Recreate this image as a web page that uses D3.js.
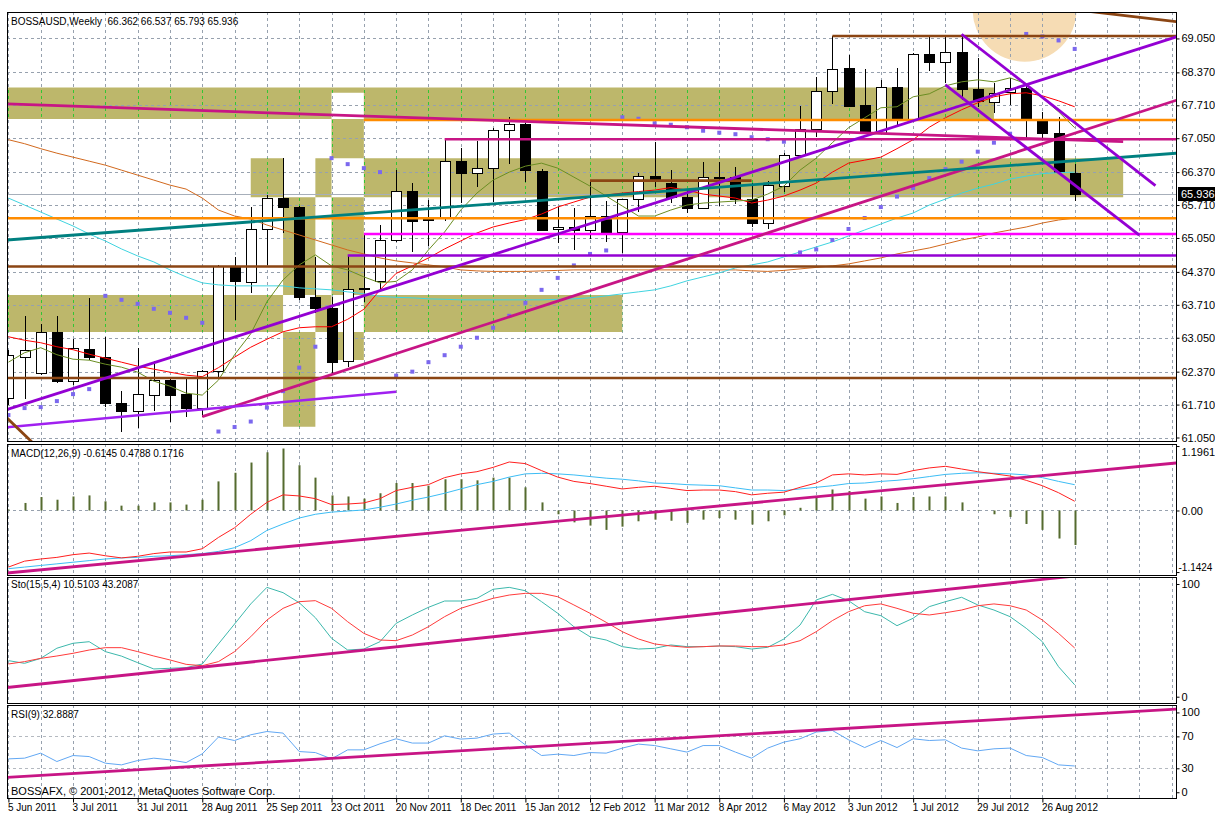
<!DOCTYPE html>
<html><head><meta charset="utf-8">
<script src="https://cdn.jsdelivr.net/npm/d3@7"></script>
<style>
body{margin:0;background:#fff;}
svg{display:block;font-family:"Liberation Sans",Arial,sans-serif;}
text{white-space:pre;}
</style></head><body>
<svg id="c" width="1215" height="815"></svg>
<script>
// ---------------- DATA ----------------
const dateLabels=["5 Jun 2011","3 Jul 2011","31 Jul 2011","28 Aug 2011","25 Sep 2011","23 Oct 2011","20 Nov 2011","18 Dec 2011","15 Jan 2012","12 Feb 2012","11 Mar 2012","8 Apr 2012","6 May 2012","3 Jun 2012","1 Jul 2012","29 Jul 2012","26 Aug 2012"];
const labelBars=[0,4,8,12,16,20,24,28,32,36,40,44,48,52,56,60,64];
const priceTicks=[69.05,68.37,67.71,67.05,66.37,65.71,65.05,64.37,63.71,63.05,62.37,61.71,61.05];
const macdTicks=[1.1961,0,-1.1424];
const macdTickLabels=["1.1961","0.00","-1.1424"];
const stoTicks=[100,0];
const rsiTicks=[100,70,30,0];

const open=[61.84,62.66,62.34,63.17,62.18,62.82,62.66,61.74,61.58,61.90,62.20,61.92,61.64,62.37,64.48,64.17,65.23,65.86,65.68,63.87,63.65,62.57,64.02,64.19,65.01,66.00,65.40,65.44,66.59,66.35,66.46,67.20,67.33,66.40,65.22,65.26,65.20,65.49,65.16,65.83,66.30,66.16,65.88,65.65,66.27,66.27,65.83,65.35,66.08,66.71,67.23,68.00,68.46,67.72,67.16,68.08,67.40,68.73,68.56,68.77,68.03,67.78,67.96,68.05,67.40,67.15,66.362];
const high=[62.80,63.49,63.33,63.49,63.03,63.85,63.07,61.98,62.84,62.58,62.24,62.24,62.40,64.50,64.67,65.67,65.91,66.65,65.70,64.67,63.87,64.69,65.15,65.31,66.41,66.15,65.81,67.01,66.85,67.00,67.25,67.48,67.35,66.43,65.68,65.65,66.18,65.80,65.83,66.35,66.98,66.41,66.02,66.58,66.58,66.48,66.15,66.20,66.75,67.70,68.28,69.10,68.72,68.43,68.22,68.46,68.75,69.10,69.10,69.13,68.65,68.16,68.25,68.10,67.58,67.48,66.537];
const low=[61.70,61.82,62.30,62.14,62.10,62.60,61.66,61.16,61.24,61.58,61.36,61.46,61.46,62.24,63.41,63.95,64.51,65.14,63.81,63.55,62.34,62.47,63.77,64.01,64.97,64.77,64.88,65.40,65.75,66.07,65.78,66.53,66.18,65.18,64.94,64.81,65.02,64.96,64.74,65.58,66.07,65.75,65.55,65.64,65.69,65.73,65.26,65.23,65.98,66.68,67.08,67.74,67.68,67.15,67.14,67.32,67.38,68.40,68.15,67.82,67.67,67.55,67.72,67.05,67.05,66.34,65.793];
const close=[62.70,62.80,63.17,62.18,62.84,62.66,61.74,61.58,61.92,62.20,61.90,61.64,62.38,64.48,64.17,65.23,65.86,65.67,63.87,63.64,62.57,64.02,64.05,65.01,66.00,65.40,65.43,66.59,66.35,66.46,67.22,67.33,66.40,65.22,65.26,65.20,65.49,65.16,65.83,66.30,66.20,65.88,65.65,66.27,66.28,65.83,65.35,66.11,66.71,67.23,68.00,68.44,67.70,67.16,68.08,67.42,68.73,68.56,68.77,68.03,67.78,67.96,68.05,67.40,67.15,66.36,65.936];

const maFast=[62.56,62.75,62.85,62.71,62.62,62.60,62.52,62.46,62.36,62.18,62.08,61.94,61.90,62.20,62.71,63.13,63.77,64.21,64.51,64.71,64.49,64.41,64.27,64.15,64.18,64.41,64.81,65.17,65.61,65.95,66.21,66.37,66.49,66.55,66.45,66.27,66.09,65.89,65.69,65.49,65.49,65.61,65.71,65.75,65.77,65.79,65.81,65.93,66.09,66.41,66.65,66.96,67.26,67.46,67.66,67.68,67.88,67.94,68.10,68.18,68.22,68.18,68.26,68.14,67.86,67.58,67.26];
const maMid=[63.07,63.00,62.95,62.87,62.81,62.72,62.64,62.56,62.48,62.42,62.36,62.30,62.27,62.45,62.66,62.86,63.02,63.17,63.25,63.27,63.27,63.42,63.62,64.01,64.34,64.49,64.65,64.83,64.99,65.15,65.27,65.35,65.42,65.53,65.67,65.77,65.87,65.91,65.95,65.98,66.01,66.06,66.01,65.93,65.89,65.85,65.75,65.81,65.89,66.01,66.15,66.37,66.55,66.61,66.67,66.84,67.02,67.27,67.46,67.62,67.76,67.88,67.94,67.96,67.90,67.80,67.68];
const maSlow=[65.85,65.71,65.57,65.43,65.29,65.13,64.99,64.83,64.69,64.57,64.41,64.27,64.15,64.11,64.09,64.09,64.09,64.09,64.05,64.03,64.01,63.97,63.93,63.88,63.86,63.85,63.83,63.82,63.81,63.81,63.81,63.81,63.81,63.81,63.82,63.83,63.85,63.89,63.93,63.97,64.01,64.09,64.19,64.27,64.35,64.45,64.51,64.57,64.67,64.77,64.87,64.97,65.09,65.21,65.33,65.45,65.55,65.71,65.83,65.95,66.05,66.13,66.23,66.29,66.34,66.36,66.37];
const maLong=[67.02,66.94,66.84,66.75,66.67,66.59,66.51,66.41,66.31,66.21,66.11,66.03,65.85,65.61,65.49,65.43,65.31,65.21,65.11,65.01,64.91,64.81,64.73,64.65,64.59,64.55,64.51,64.47,64.41,64.39,64.38,64.38,64.38,64.39,64.40,64.41,64.41,64.41,64.41,64.41,64.41,64.41,64.41,64.41,64.41,64.41,64.39,64.38,64.40,64.43,64.46,64.49,64.53,64.59,64.65,64.73,64.79,64.85,64.93,65.01,65.07,65.15,65.21,65.27,65.35,65.41,65.45];
const sar=[61.50,61.64,61.66,61.78,61.92,62.02,63.89,63.81,63.73,63.63,63.55,63.45,63.35,61.17,61.26,61.37,61.65,61.98,62.45,62.87,66.65,66.53,66.45,66.37,62.29,62.37,62.56,62.70,62.87,63.05,63.25,63.49,63.75,64.01,64.25,64.50,64.73,64.80,67.47,67.44,67.35,67.32,67.27,67.20,67.16,67.13,67.07,67.03,66.98,64.76,64.82,65.01,65.23,65.45,65.67,65.88,66.05,66.25,66.43,66.58,66.78,66.96,67.14,69.14,69.09,69.01,68.84];

const macdHist=[0.02,0.14,0.25,0.20,0.26,0.28,0.17,0.09,0.09,0.15,0.15,0.11,0.20,0.54,0.70,0.89,1.08,1.15,0.84,0.61,0.28,0.26,0.22,0.32,0.51,0.51,0.46,0.58,0.58,0.56,0.61,0.61,0.43,0.15,-0.07,-0.22,-0.28,-0.36,-0.30,-0.20,-0.17,-0.19,-0.23,-0.17,-0.14,-0.17,-0.26,-0.20,-0.09,0.05,0.25,0.39,0.36,0.22,0.26,0.14,0.25,0.26,0.26,0.15,0.01,-0.07,-0.12,-0.25,-0.36,-0.52,-0.64];
const macdMain=[-1.05,-0.94,-0.90,-0.87,-0.82,-0.79,-0.84,-0.88,-0.85,-0.80,-0.77,-0.77,-0.71,-0.50,-0.32,-0.07,0.15,0.29,0.27,0.22,0.11,0.12,0.14,0.22,0.37,0.43,0.48,0.61,0.68,0.72,0.80,0.90,0.87,0.74,0.62,0.54,0.50,0.45,0.40,0.43,0.45,0.41,0.37,0.38,0.38,0.35,0.29,0.32,0.34,0.43,0.51,0.66,0.68,0.66,0.68,0.67,0.74,0.79,0.82,0.77,0.72,0.68,0.64,0.56,0.46,0.33,0.1716];
const macdSignal=[-1.08,-1.05,-1.02,-0.99,-0.96,-0.93,-0.90,-0.88,-0.87,-0.85,-0.84,-0.82,-0.80,-0.76,-0.69,-0.56,-0.37,-0.25,-0.14,-0.07,-0.03,-0.01,0.01,0.06,0.12,0.19,0.25,0.32,0.40,0.48,0.54,0.62,0.68,0.69,0.68,0.66,0.63,0.60,0.58,0.55,0.51,0.50,0.48,0.47,0.46,0.42,0.38,0.38,0.37,0.40,0.43,0.46,0.50,0.51,0.54,0.56,0.59,0.63,0.67,0.69,0.70,0.69,0.68,0.66,0.61,0.54,0.4788];
const stoMain=[32,29.6,34,43,47.4,48.8,40,36,30.2,24.6,25.2,25.8,29,46.8,64.5,82.3,97,92.3,83.4,70.1,51.8,41.4,42.3,48.8,65.1,72.5,79.3,84.9,84.9,87.3,95.3,97,94,84.3,74,62.1,53.2,50.3,44.4,42.3,42.9,45.9,44.4,44.4,45,44.4,42.3,43.8,51.2,63.6,85.8,90.8,85.2,75.4,71.9,63,69.6,79.9,84.3,88.2,81.4,76.9,71,60.7,48.8,26.6,10.51];
const stoSignal=[29,31.1,34,36.1,38.5,41.4,43.5,43.5,40,36.1,32.6,28.7,27.5,31.1,40,53.2,68,78.4,84.3,85.2,78.4,66.5,56.2,50.3,49.7,54.7,62.1,71,78.4,82.9,87.3,90.2,91.7,91.7,88.7,81.4,74,66,57.7,51.2,46.8,45,43.8,44.4,45,45,44.4,44.4,45.9,49.7,57.7,67.5,75.4,80.7,82.3,78.4,74,72.5,74.5,76.9,80.7,82.3,80.7,76.9,68,56.2,43.21];
const rsi=[41.8,42.7,49,38.5,46,44.7,36.4,34.3,39.7,42.7,40.6,37.2,48.1,69.1,64.8,72,76.1,74.1,51,49.7,41.8,53.1,53.1,60.7,67,61.6,61.6,70.7,66.6,67.8,72.9,74.1,59.4,46,47.7,46,49.7,49,55.3,60.3,58.5,54.4,50.3,58.5,58.5,50.3,42.7,55.3,62.8,67,75.4,77.4,65.7,56,64.8,56,67,64.8,65.7,55.3,51.9,54.4,55.3,46,43.5,34.3,32.89];

// drawn objects (bar index / price)
const zoneT0=[-3,15,-3,20,17], zoneT1=[61,69,38,22,19];
const zoneTop=[68.064,66.648,63.907,67.963,66.648], zoneBot=[67.436,65.866,63.165,62.604,61.267];
const hLevels=[67.416,65.445,65.13,64.70,64.478,62.243,69.10,66.20,67.03];
const hFrom=[22,-3,22,21,-3,-3,51,36,27];
const hTo=[80,80,80,80,80,80,80,46,80];
const trendT0=[0,12,0,0,0,59,58,68,0];
const trendV0=[61.62,61.47,65.012,67.736,61.257,69.134,68.118,69.55,61.413];
const trendT1=[72,72,72,69,24,71,70,72,1];
const trendV1=[69.05,67.78,66.742,66.981,61.968,66.10,65.105,69.397,61.102];
const trendFrom=[-3,12,-3,-3,-3,59,58,60,-3];
const trendTo=[80,80,80,69,24,71,70,80,5];
const ellipseT=[62.9], ellipseP=[69.627], ellipseRT=[3.22], ellipseRP=[1.043];
const bidPrice=65.936;
const macdTrend=[[0,-1.158],[72,0.874]];
const stoTrend=[[0,8.3],[72,116.0]];
const rsiTrend=[[0,18.8],[72,103.9]];

// ---------------- LAYOUT ----------------
const L=7,R=1176;
const P={main:[12,441],macd:[444,575],sto:[577,703],rsi:[705,798]};
const svg=d3.select("#c");
const x=d3.scaleLinear().domain([-0.087,72.27]).range([L,R]);
const yP=d3.scaleLinear().domain([60.98,69.58]).range([441,12]);
const yM=d3.scaleLinear().domain([-1.197,1.234]).range([575,444]);
const yS=d3.scaleLinear().domain([-5.6,106.2]).range([703,577]);
const yR=d3.scaleLinear().domain([-7.2,109.3]).range([798,705]);
const bars=d3.range(open.length);
const defs=svg.append("defs");
Object.entries(P).forEach(([k,[t,b]])=>{
  defs.append("clipPath").attr("id","clip-"+k).append("rect").attr("x",L).attr("y",t).attr("width",R-L).attr("height",b-t);
});
const C={grid:"#97a1ae",olive:"#BDB76B",mag:"#C71585",fuch:"#FF00FF",purp:"#9400D3",teal:"#008080",orange:"#FF8C00",brown:"#8B4513"};

function gridV(g,t,b){
  g.selectAll(null).data(d3.range(0,74,2)).join("line")
   .attr("x1",d=>Math.round(x(d))+0.5).attr("x2",d=>Math.round(x(d))+0.5)
   .attr("y1",t).attr("y2",b).attr("stroke",C.grid).attr("stroke-dasharray","3,3");
}
function gridH(g,ys,color){
  g.selectAll(null).data(ys).join("line").attr("x1",L).attr("x2",R)
   .attr("y1",d=>Math.round(d)+0.5).attr("y2",d=>Math.round(d)+0.5)
   .attr("stroke",color||C.grid).attr("stroke-dasharray","3,3");
}

// ---------------- MAIN PANEL ----------------
const gm=svg.append("g").attr("clip-path","url(#clip-main)");
const zonePath=zoneT0.map((t,k)=>{
  const x0=x(t),x1=x(zoneT1[k]),y0=yP(zoneTop[k]),y1=yP(zoneBot[k]);
  return `M${x0},${y0}H${x1}V${y1}H${x0}Z`;}).join("");
gm.append("path").attr("d",zonePath).attr("fill",C.olive).attr("fill-rule","evenodd");
defs.append("clipPath").attr("id","clip-zone").append("path").attr("d",zonePath).attr("clip-rule","evenodd");
gm.append("ellipse").attr("cx",x(ellipseT[0])).attr("cy",yP(ellipseP[0]))
  .attr("rx",x(ellipseT[0]+ellipseRT[0])-x(ellipseT[0])).attr("ry",yP(ellipseP[0]-ellipseRP[0])-yP(ellipseP[0]))
  .attr("fill","#F6DCB4");
gridV(gm,12,441);
gridH(gm,priceTicks.map(yP));
const gz=gm.append("g").attr("clip-path","url(#clip-zone)");
gz.selectAll(null).data(d3.range(0,74,2)).join("line")
  .attr("x1",d=>Math.round(x(d))+0.5).attr("x2",d=>Math.round(x(d))+0.5)
  .attr("y1",12).attr("y2",441).attr("stroke","#33c633").attr("stroke-dasharray","3,3");
gm.append("line").attr("x1",L).attr("x2",R).attr("y1",Math.round(yP(bidPrice))+0.5).attr("y2",Math.round(yP(bidPrice))+0.5).attr("stroke","#a7afba");
const gc=gm.append("g").attr("shape-rendering","crispEdges");
gc.selectAll(null).data(bars).join("line")
  .attr("x1",i=>Math.round(x(i))+0.5).attr("x2",i=>Math.round(x(i))+0.5)
  .attr("y1",i=>yP(high[i])).attr("y2",i=>yP(low[i])).attr("stroke","#000");
gc.selectAll(null).data(bars).join("rect")
  .attr("x",i=>Math.round(x(i))-4.5).attr("width",10)
  .attr("y",i=>Math.round(yP(Math.max(open[i],close[i])))+0.5)
  .attr("height",i=>Math.max(1,Math.round(Math.abs(yP(open[i])-yP(close[i])))))
  .attr("fill",i=>close[i]>=open[i]?"#fff":"#000").attr("stroke","#000");
[[maLong,"#D2691E"],[maSlow,"#40D4E0"],[maMid,"#FF0000"],[maFast,"#6B8E23"]].forEach(([v,c])=>{
  gm.append("path").attr("d",d3.line().x((d,i)=>x(i)).y(d=>yP(d))(v)).attr("fill","none").attr("stroke",c).attr("stroke-width",1);
});
gm.selectAll(null).data(bars).join("rect").attr("x",i=>x(i)-2).attr("y",i=>yP(sar[i])-2).attr("width",4).attr("height",4).attr("fill","#7B68EE");
const hColors=[C.orange,C.orange,C.fuch,C.purp,C.brown,C.brown,C.brown,C.brown,C.mag];
hLevels.forEach((p,k)=>{
  gm.append("line").attr("x1",x(hFrom[k])).attr("x2",x(hTo[k])).attr("y1",yP(p)).attr("y2",yP(p))
    .attr("stroke",hColors[k]).attr("stroke-width",2.6);
});
const tColors=[C.purp,C.mag,C.teal,C.mag,"#A020F0",C.purp,C.purp,C.brown,C.brown];
trendT0.forEach((t0,k)=>{
  const s=(trendV1[k]-trendV0[k])/(trendT1[k]-t0);
  const a=trendFrom[k], b=trendTo[k];
  gm.append("line").attr("x1",x(a)).attr("x2",x(b))
    .attr("y1",yP(trendV0[k]+s*(a-t0))).attr("y2",yP(trendV0[k]+s*(b-t0)))
    .attr("stroke",tColors[k]).attr("stroke-width",k===4?2.4:2.8);
});

// ---------------- MACD ----------------
const gM=svg.append("g").attr("clip-path","url(#clip-macd)");
gridV(gM,444,575);
gridH(gM,[yM(0)]);
gM.selectAll(null).data(bars).join("rect").attr("x",i=>Math.round(x(i))-0.5).attr("width",2)
  .attr("y",i=>Math.min(yM(0),yM(macdHist[i]))).attr("height",i=>Math.abs(yM(macdHist[i])-yM(0)))
  .attr("fill","#556B2F");
gM.append("path").attr("d",d3.line().x((d,i)=>x(i)).y(d=>yM(d))(macdSignal)).attr("fill","none").attr("stroke","#3CBDF5");
gM.append("path").attr("d",d3.line().x((d,i)=>x(i)).y(d=>yM(d))(macdMain)).attr("fill","none").attr("stroke","#FF2020");
function trendLine(g,ys,tr){
  const s=(tr[1][1]-tr[0][1])/(tr[1][0]-tr[0][0]);
  g.append("line").attr("x1",x(-3)).attr("x2",x(80))
   .attr("y1",ys(tr[0][1]+s*(-3-tr[0][0]))).attr("y2",ys(tr[0][1]+s*(80-tr[0][0])))
   .attr("stroke",C.mag).attr("stroke-width",2.8);
}
trendLine(gM,yM,macdTrend);

// ---------------- STOCH ----------------
const gS=svg.append("g").attr("clip-path","url(#clip-sto)");
gridV(gS,577,703);
gS.append("path").attr("d",d3.line().x((d,i)=>x(i)).y(d=>yS(d))(stoMain)).attr("fill","none").attr("stroke","#3CB8AC");
gS.append("path").attr("d",d3.line().x((d,i)=>x(i)).y(d=>yS(d))(stoSignal)).attr("fill","none").attr("stroke","#FF3B3B");
trendLine(gS,yS,stoTrend);

// ---------------- RSI ----------------
const gR=svg.append("g").attr("clip-path","url(#clip-rsi)");
gridV(gR,705,798);
gridH(gR,[yR(70),yR(30)],"#b4b9c0");
gR.append("path").attr("d",d3.line().x((d,i)=>x(i)).y(d=>yR(d))(rsi)).attr("fill","none").attr("stroke","#62A8F4");
trendLine(gR,yR,rsiTrend);

// ---------------- FRAMES & AXES ----------------
Object.values(P).forEach(([t,b])=>{
  svg.append("rect").attr("x",L+0.5).attr("y",t+0.5).attr("width",R-L).attr("height",b-t).attr("fill","none").attr("stroke","#000");
});
function styleAxis(g,fs){
  g.select(".domain").remove();
  g.selectAll("text").attr("font-size",fs||11).attr("fill","#000").attr("font-family","Liberation Sans, Arial, sans-serif");
  g.selectAll("line").attr("stroke","#000");
}
svg.append("g").attr("transform",`translate(${R+0.5},0)`)
  .call(d3.axisRight(yP).tickValues(priceTicks).tickFormat(d=>d.toFixed(3)).tickSize(3).tickPadding(2)).call(g=>styleAxis(g,11));
const gma=svg.append("g").attr("transform",`translate(${R+0.5},0)`)
  .call(d3.axisRight(yM).tickValues(macdTicks).tickFormat((d,k)=>macdTickLabels[k]).tickSize(3).tickPadding(2)).call(g=>styleAxis(g,11));
gma.selectAll(".tick").filter(d=>d===1.1961).select("text").attr("dy","0.9em");
gma.selectAll(".tick").filter(d=>d===-1.1424).select("text").attr("dy","-0.2em").attr("font-size",10).attr("x",2);
svg.append("g").attr("transform",`translate(${R+0.5},0)`)
  .call(d3.axisRight(yS).tickValues(stoTicks).tickSize(3).tickPadding(2)).call(g=>styleAxis(g,11));
svg.append("g").attr("transform",`translate(${R+0.5},0)`)
  .call(d3.axisRight(yR).tickValues(rsiTicks).tickSize(3).tickPadding(2)).call(g=>styleAxis(g,11));
const gx=svg.append("g").attr("transform",`translate(0,${P.rsi[1]+0.5})`)
  .call(d3.axisBottom(x).tickValues(labelBars).tickFormat((d,k)=>dateLabels[k]).tickSize(4).tickPadding(1)).call(g=>styleAxis(g,10));
gx.selectAll("text").attr("text-anchor","start").attr("dx",-1);

const by=Math.round(yP(bidPrice));
svg.append("rect").attr("x",R+2).attr("y",by-7).attr("width",38).attr("height",14).attr("fill","#000");
svg.append("text").attr("x",R+5).attr("y",by+4).attr("font-size",11).attr("fill","#fff").text("65.936");

const txt=(s,xx,yy,fs)=>svg.append("text").attr("x",xx).attr("y",yy).attr("font-size",fs).attr("fill","#000").attr("xml:space","preserve").text(s);
txt("BOSSAUSD,Weekly  66.362 66.537 65.793 65.936",11,25,10);
txt("MACD(12,26,9) -0.6145 0.4788 0.1716",11,457,10);
txt("Sto(15,5,4) 10.5103 43.2087",11,588,10);
txt("RSI(9) 32.8887",11,718,10);
txt("BOSSAFX, © 2001-2012, MetaQuotes Software Corp.",11,795,11);
</script>
</body></html>
